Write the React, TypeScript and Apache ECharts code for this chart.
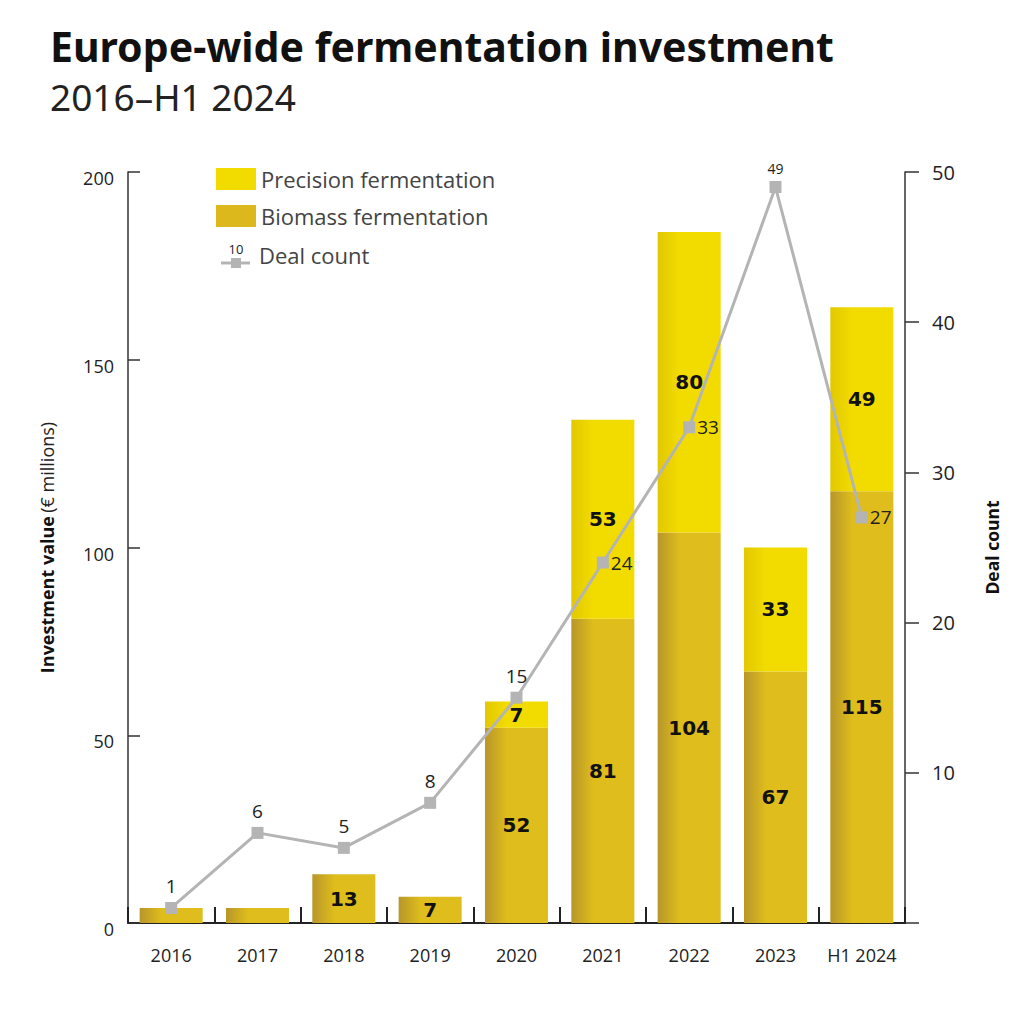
import React, { useEffect, useRef } from "react";
import * as echarts from "echarts";

const categories = ["2016", "2017", "2018", "2019", "2020", "2021", "2022", "2023", "H1 2024"];
const biomass = [4, 4, 13, 7, 52, 81, 104, 67, 115];
const precision = [0, 0, 0, 0, 7, 53, 80, 33, 49];
const dealCount = [1, 6, 5, 8, 15, 24, 33, 49, 27];
const dealLabelPos = ["top", "top", "top", "top", "top", "right", "right", "top", "right"];
const hiddenBarLabels = ["2016", "2017"];
const leftTicks = { min: 0, max: 200, interval: 50 };
const rightTicks = { min: 0, max: 50, interval: 10 };

const FONT = "'Open Sans', 'Noto Sans', sans-serif";
const BOLD_FONT = "'DejaVu Sans', sans-serif";
const LINE_GRAY = "#b4b4b4";

function grad(c1: string, c2: string) {
  return new echarts.graphic.LinearGradient(0, 0, 1, 0, [
    { offset: 0, color: c1 },
    { offset: 0.35, color: c2 },
    { offset: 1, color: c2 },
  ]);
}

export default function App() {
  const ref = useRef<HTMLDivElement>(null);
  useEffect(() => {
    if (!ref.current) return;
    const chart = echarts.init(ref.current, null, { renderer: "svg" });
    const barLabel = {
      show: true,
      position: "inside",
      fontFamily: BOLD_FONT,
      fontWeight: "bold",
      fontSize: 20,
      color: "#111",
    };
    chart.setOption({
      animation: false,
      backgroundColor: "#fff",
      title: [
        {
          text: "Europe-wide fermentation investment",
          left: 42,
          top: 17,
          padding: 0,
          textStyle: {
            fontFamily: "'Noto Sans', sans-serif",
            fontWeight: "bold",
            fontSize: 41,
            lineHeight: 41,
            color: "#111",
          },
        },
        {
          text: "2016–H1 2024",
          left: 42,
          top: 70,
          padding: 0,
          textStyle: {
            fontFamily: "'Noto Sans', sans-serif",
            fontWeight: "normal",
            fontSize: 37,
            lineHeight: 37,
            color: "#222",
          },
        },
      ],
      legend: {
        orient: "vertical",
        left: 203,
        top: 155,
        itemWidth: 40,
        itemHeight: 22,
        itemGap: 15,
        textStyle: { fontFamily: FONT, fontSize: 22, color: "#444" },
        data: [
          { name: "Precision fermentation", icon: "rect", itemStyle: { color: "#f2dc00" } },
          { name: "Biomass fermentation", icon: "rect", itemStyle: { color: "#dcb81c" } },
        ],
      },
      graphic: [
        {
          type: "line",
          shape: { x1: 213, y1: 255, x2: 242, y2: 255 },
          style: { stroke: LINE_GRAY, lineWidth: 3 },
        },
        {
          type: "rect",
          shape: { x: 223, y: 250, width: 10, height: 10 },
          style: { fill: LINE_GRAY },
        },
        {
          type: "text",
          x: 228,
          y: 241,
          style: { text: "10", fontFamily: FONT, fontSize: 13, fill: "#222", align: "center", verticalAlign: "middle" },
        },
        {
          type: "text",
          x: 251,
          y: 247,
          style: { text: "Deal count", fontFamily: FONT, fontSize: 22, fill: "#444", align: "left", verticalAlign: "middle" },
        },
      ],
      grid: { left: 120, right: 127, top: 164, bottom: 109, containLabel: false },
      xAxis: {
        type: "category",
        data: categories,
        boundaryGap: true,
        axisLine: { lineStyle: { color: "#222", width: 2 } },
        axisTick: { show: true, inside: true, length: 16, lineStyle: { color: "#222", width: 2 } },
        axisLabel: { interval: 0, fontFamily: FONT, fontSize: 18, color: "#222", margin: 23 },
      },
      yAxis: [
        {
          type: "value",
          ...leftTicks,
          name: "{b|Investment value} {n|(€ millions)}",
          nameLocation: "middle",
          nameGap: 72,
          nameRotate: 90,
          nameTextStyle: {
            rich: {
              b: { fontFamily: FONT, fontWeight: "bold", fontSize: 18, color: "#111" },
              n: { fontFamily: FONT, fontWeight: "normal", fontSize: 18, color: "#222" },
            },
          },
          axisLine: { show: true, lineStyle: { color: "#333", width: 1.5 } },
          axisTick: { show: true, inside: true, length: 12, lineStyle: { color: "#333", width: 1.5 } },
          axisLabel: {
            fontFamily: FONT,
            fontSize: 18,
            color: "#222",
            margin: 14,
            verticalAlign: "top",
            lineHeight: 12,
          },
          splitLine: { show: false },
        },
        {
          type: "value",
          ...rightTicks,
          position: "right",
          name: "Deal count",
          nameLocation: "middle",
          nameGap: 78,
          nameRotate: 90,
          nameTextStyle: { fontFamily: FONT, fontWeight: "bold", fontSize: 17.5, color: "#111" },
          axisLine: { show: true, lineStyle: { color: "#333", width: 1.5 } },
          axisTick: { show: true, inside: false, length: 14, lineStyle: { color: "#333", width: 1.5 } },
          axisLabel: {
            fontFamily: FONT,
            fontSize: 20,
            color: "#222",
            margin: 27,
            formatter: (v: number) => (v === 0 ? "" : String(v)),
          },
          splitLine: { show: false },
        },
      ],
      series: [
        {
          name: "Biomass fermentation",
          type: "bar",
          stack: "inv",
          barWidth: "73%",
          itemStyle: { color: grad("#b8962a", "#debd1c") },
          label: barLabel,
          data: biomass.map((v, i) => ({
            value: v,
            label: { show: !hiddenBarLabels.includes(categories[i]) },
          })),
          z: 2,
        },
        {
          name: "Precision fermentation",
          type: "bar",
          stack: "inv",
          barWidth: "73%",
          itemStyle: { color: grad("#e2c800", "#f2dc00") },
          label: barLabel,
          data: precision.map((v) => ({ value: v, label: { show: v > 0 } })),
          z: 2,
        },
        {
          name: "Deal count",
          type: "line",
          yAxisIndex: 1,
          symbol: "rect",
          symbolSize: 12,
          itemStyle: { color: LINE_GRAY },
          lineStyle: { color: LINE_GRAY, width: 3 },
          z: 5,
          data: dealCount.map((v, i) => ({
            value: v,
            label: {
              show: true,
              position: dealLabelPos[i],
              distance: dealLabelPos[i] === "right" ? 2 : 6,
              fontFamily: FONT,
              fontSize: categories[i] === "2023" ? 14 : 19,
              color: "#222",
            },
          })),
        },
      ],
    });
    return () => chart.dispose();
  }, []);
  return <div ref={ref} style={{ width: 1024, height: 1024 }} />;
}
